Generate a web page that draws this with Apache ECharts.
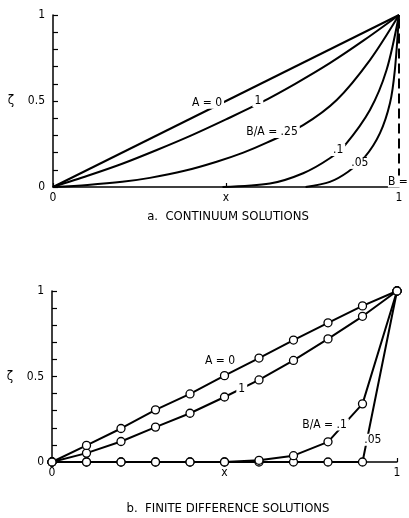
<!DOCTYPE html>
<html>
<head>
<meta charset="utf-8">
<script src="https://cdn.jsdelivr.net/npm/echarts@6/dist/echarts.min.js"></script>
<style>
	html, body { margin: 0; padding: 0; background: #fff; }
	#chart { width: 409px; height: 518px; }
</style>
</head>
<body>
<div id="chart"></div>
<script>
// x stations for the finite difference solutions
let xStations = [0, 0.1, 0.2, 0.3, 0.4, 0.5, 0.6, 0.7, 0.8, 0.9, 1];

// b. finite difference solutions (values at each station)
let fdA0 = [0, 0.097, 0.196, 0.305, 0.398, 0.505, 0.608, 0.713, 0.814, 0.913, 1];
let fdA1 = [0, 0.052, 0.12, 0.204, 0.285, 0.38, 0.48, 0.594, 0.72, 0.852, 1];
let fdBA10 = [0, 0, 0, 0, 0, 0, 0.01, 0.037, 0.118, 0.34, 1];
let fdBA05 = [0, 0, 0, 0, 0, 0, 0, 0, 0, 0, 1];

// a. continuum solutions, [x, zeta]
let contA0 = [[0, 0], [1, 1]];
let contA1 = [[0, 0], [0.1, 0.065], [0.2, 0.135], [0.3, 0.215], [0.4, 0.3], [0.5, 0.393], [0.6, 0.49], [0.7, 0.6], [0.8, 0.72], [0.9, 0.855], [1, 1]];
let contBA25 = [[0, 0], [0.1, 0.012], [0.2, 0.03], [0.28, 0.053], [0.38, 0.094], [0.473, 0.147], [0.55, 0.2], [0.618, 0.258], [0.723, 0.36], [0.82, 0.506], [0.916, 0.738], [1, 1]];
let contBA10 = [[0.49, 0], [0.627, 0.02], [0.723, 0.08], [0.8, 0.167], [0.844, 0.244], [0.916, 0.448], [0.964, 0.68], [1, 1]];
let contBA05 = [[0.73, 0], [0.8, 0.03], [0.853, 0.089], [0.902, 0.176], [0.945, 0.313], [0.974, 0.488], [0.988, 0.68], [1, 1]];
let contB0 = [[1, 0.05], [1, 1]];

// curve labels: [x, zeta, text]
let topLabels = [[0.445, 0.49, 'A = 0'], [0.592, 0.5, '1'], [0.633, 0.32, 'B/A = .25'], [0.824, 0.215, '.1'], [0.887, 0.14, '.05']];
let bottomLabels = [[0.487, 0.59, 'A = 0'], [0.55, 0.43, '1'], [0.79, 0.22, 'B/A = .1'], [0.93, 0.13, '.05']];

let captions = ['a.  CONTINUUM SOLUTIONS', 'b.  FINITE DIFFERENCE SOLUTIONS'];

const font = 'DejaVu Sans Condensed';

function yLabel(v) {
	if (Math.abs(v) < 1e-9) return '0';
	if (Math.abs(v - 0.5) < 1e-9) return '0.5';
	if (Math.abs(v - 1) < 1e-9) return '1';
	return '';
}

function makeX(idx) {
	return {
		type: 'value',
		gridIndex: idx,
		min: 0,
		max: 1,
		interval: 0.5,
		axisLine: { lineStyle: { color: '#000', width: 1.5 } },
		axisTick: { show: true, inside: true, length: 4, lineStyle: { color: '#000', width: 1.2 } },
		splitLine: { show: false },
		axisLabel: {
			color: '#000',
			fontFamily: font,
			fontSize: 12,
			margin: 5,
			formatter: (v) => (Math.abs(v - 0.5) < 1e-9 ? 'x' : Math.abs(v) < 1e-9 ? '0' : '1'),
		},
	};
}

function makeY(idx) {
	return {
		type: 'value',
		gridIndex: idx,
		min: 0,
		max: 1,
		interval: 0.1,
		name: 'ζ',
		nameLocation: 'middle',
		nameRotate: 0,
		nameGap: 39,
		nameTextStyle: { color: '#000', fontFamily: font, fontSize: 13 },
		axisLine: { show: true, lineStyle: { color: '#000', width: 1.5 } },
		axisTick: { show: true, inside: true, length: 5, lineStyle: { color: '#000', width: 1.2 } },
		splitLine: { show: false },
		axisLabel: {
			color: '#000',
			fontFamily: font,
			fontSize: 12,
			margin: 8,
			formatter: yLabel,
		},
	};
}

function curve(data, idx, extra) {
	return Object.assign({
		type: 'line',
		xAxisIndex: idx,
		yAxisIndex: idx,
		data: data,
		symbol: 'none',
		smooth: 0.3,
		clip: false,
		lineStyle: { color: '#000', width: 2 },
		z: 2,
		silent: true,
	}, extra || {});
}

function fdLine(vals) {
	return {
		type: 'line',
		xAxisIndex: 1,
		yAxisIndex: 1,
		data: xStations.map((x, i) => [x, vals[i]]),
		symbol: 'circle',
		symbolSize: 8,
		clip: false,
		lineStyle: { color: '#000', width: 2 },
		itemStyle: { color: '#fff', borderColor: '#000', borderWidth: 1.3 },
		z: 3,
		silent: true,
	};
}

const labelText = {
	show: true,
	position: 'inside',
	formatter: '{b}',
	color: '#000',
	fontFamily: font,
	fontSize: 12,
	textBorderWidth: 0,
	backgroundColor: '#fff',
	padding: [0, 2],
};

function labelSeries(labels, idx) {
	return {
		type: 'scatter',
		xAxisIndex: idx,
		yAxisIndex: idx,
		symbolSize: 0,
		z: 10,
		silent: true,
		itemStyle: { opacity: 1 },
		data: labels.map((l) => ({ value: [l[0], l[1]], name: l[2] })),
		label: labelText,
	};
}

let chart = echarts.init(document.getElementById('chart'), null, { renderer: 'canvas' });

const capStyle = { color: '#000', fontFamily: font, fontSize: 13, fontWeight: 'normal' };

let option = {
	backgroundColor: '#fff',
	animation: false,
	title: [
		{ text: captions[0], left: 223, textAlign: 'center', top: 205, textStyle: capStyle },
		{ text: captions[1], left: 223, textAlign: 'center', top: 497, textStyle: capStyle },
	],
	grid: [
		{ left: 53, top: 15, width: 346, height: 172 },
		{ left: 52, top: 291, width: 345, height: 171 },
	],
	xAxis: [makeX(0), makeX(1)],
	yAxis: [makeY(0), makeY(1)],
	series: [
		curve(contA0, 0, { smooth: false }),
		curve(contA1, 0),
		curve(contBA25, 0),
		curve(contBA10, 0),
		curve(contBA05, 0),
		curve(contB0, 0, { smooth: false, lineStyle: { color: '#000', width: 2, type: [10, 5] } }),
		labelSeries(topLabels, 0),
		{
			type: 'scatter',
			xAxisIndex: 0,
			yAxisIndex: 0,
			symbolSize: 0,
			z: 10,
			silent: true,
			itemStyle: { opacity: 1 },
			data: [{ value: [1, 0.02], name: 'B = 0' }],
			label: Object.assign({}, labelText, { offset: [4, -2], padding: 0 }),
		},
		fdLine(fdBA05),
		fdLine(fdBA10),
		fdLine(fdA1),
		fdLine(fdA0),
		labelSeries(bottomLabels, 1),
	],
};

chart.setOption(option);
</script>
</body>
</html>
